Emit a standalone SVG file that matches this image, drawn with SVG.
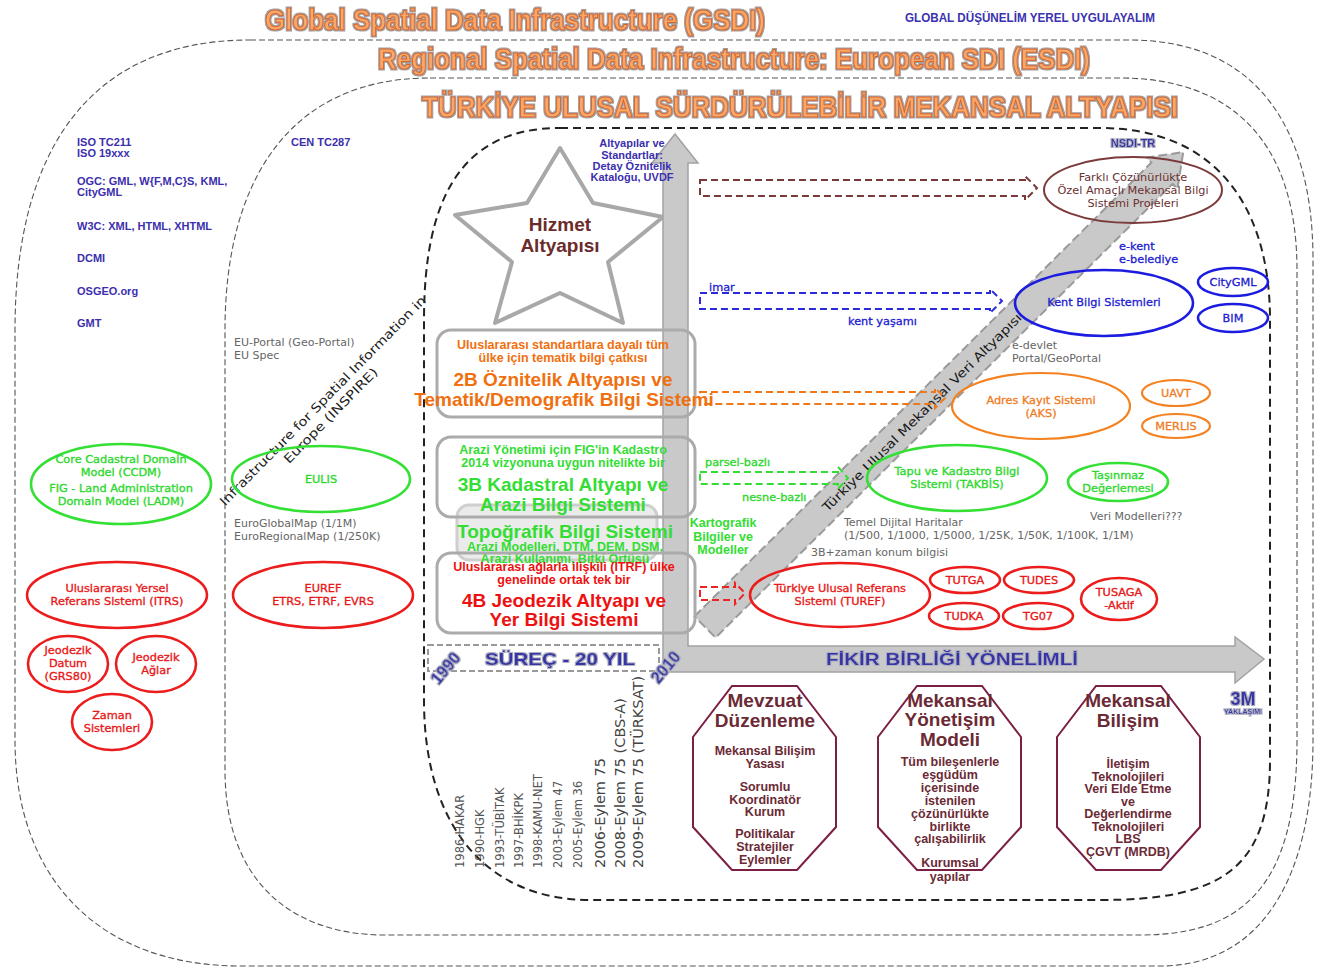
<svg xmlns="http://www.w3.org/2000/svg" width="1319" height="968" viewBox="0 0 1319 968">
<defs>
<filter id="halo" x="-5%" y="-60%" width="110%" height="220%">
<feMorphology in="SourceAlpha" operator="dilate" radius="1.4" result="d"/>
<feFlood flood-color="#a0a0a0"/>
<feComposite in2="d" operator="in" result="g"/>
<feGaussianBlur in="g" stdDeviation="0.7" result="gb"/>
<feMerge><feMergeNode in="gb"/><feMergeNode in="SourceGraphic"/></feMerge>
</filter>
<filter id="halo2" x="-10%" y="-50%" width="120%" height="200%">
<feMorphology in="SourceAlpha" operator="dilate" radius="1" result="d"/>
<feFlood flood-color="#b0b0c0"/>
<feComposite in2="d" operator="in" result="g"/>
<feGaussianBlur in="g" stdDeviation="0.6" result="gb"/>
<feMerge><feMergeNode in="gb"/><feMergeNode in="SourceGraphic"/></feMerge>
</filter>
<style>
text{font-family:"DejaVu Sans","Liberation Sans",sans-serif}
.c{text-anchor:middle}
.ar{font-family:"Liberation Sans",Arial,sans-serif;font-weight:bold}
.pur{font-family:"Liberation Sans",Arial,sans-serif;font-weight:bold;font-size:11px;fill:#3b2fae}
.gray{font-size:11px;fill:#666}
.ttl{font-family:"Liberation Sans",Arial,sans-serif;font-weight:bold;fill:#f8a86a;stroke:#d9641c;stroke-width:1}
.bo{fill:none;stroke:#555;stroke-width:1.1;stroke-dasharray:6 3}
.bi{fill:none;stroke:#222;stroke-width:2;stroke-dasharray:8 5}
.eg{fill:none;stroke:#35e035;stroke-width:2.6}
.er{fill:none;stroke:#ec1c1c;stroke-width:2.6}
.eb{fill:none;stroke:#1c1ce0;stroke-width:2.6}
.eo{fill:none;stroke:#f58220;stroke-width:2.2}
.ebr{fill:none;stroke:#7b3b3b;stroke-width:2}
.tg{fill:#2ed82e;stroke:#2ed82e;stroke-width:0.35;font-size:11.3px}
.tr{fill:#e81818;stroke:#e81818;stroke-width:0.35;font-size:11.3px}
.tb{fill:#2020d0;stroke:#2020d0;stroke-width:0.3;font-size:11.3px}
.to{fill:#f07a20;stroke:#f07a20;stroke-width:0.3;font-size:11.3px}
.tbr{fill:#6b3030;font-size:11.3px}
.box{fill:none;stroke:#ababab;stroke-width:3}
.sub{font-family:"Liberation Sans",Arial,sans-serif;font-weight:bold;font-size:12.5px;text-anchor:middle}
.big{font-family:"Liberation Sans",Arial,sans-serif;font-weight:bold;font-size:19px;text-anchor:middle}
.oct{fill:#fff;stroke:#7b1f45;stroke-width:2}
.ot{font-family:"Liberation Sans",Arial,sans-serif;font-weight:bold;font-size:19px;fill:#6b2a35;text-anchor:middle}
.os{font-family:"Liberation Sans",Arial,sans-serif;font-weight:bold;font-size:12.5px;fill:#6b2a35;text-anchor:middle}
.blu{font-family:"Liberation Sans",Arial,sans-serif;font-weight:bold;fill:#3535a5}
.yr{font-size:11.5px;fill:#555}
.yl{font-size:14.5px;fill:#444}
.grey-arrow{fill:#c9c9c9;stroke:#a2a2a2;stroke-width:1.5}
</style>
</defs>
<rect width="1319" height="968" fill="#fff"/>

<g id="boundaries">
<path class="bo" d="M250,40 H1130 C1250,40 1313,120 1313,260 V740 C1313,880 1260,966 1160,966 H241 C100,966 15,880 15,740 V330 C15,150 90,40 250,40 Z"/>
<path class="bo" d="M430,78 H1120 C1230,78 1297,140 1297,270 V740 C1297,890 1240,935 1140,935 H385 C290,935 225,880 225,770 V330 C225,180 290,78 430,78 Z"/>
<path class="bi" d="M560,128 H1100 C1210,128 1270,200 1270,320 V760 C1270,870 1220,900 1100,900 H590 C490,900 424,830 424,700 V320 C424,200 460,128 560,128 Z"/>
</g>

<g id="titles">
<text class="ttl" x="265" y="30" font-size="30" textLength="500" lengthAdjust="spacingAndGlyphs" filter="url(#halo)">Global Spatial Data Infrastructure (GSDI)</text>
<text class="ar" x="905" y="22" font-size="12" fill="#3a32b0" textLength="250" lengthAdjust="spacingAndGlyphs">GLOBAL DÜŞÜNELİM YEREL UYGULAYALIM</text>
<text class="ttl" x="378" y="69" font-size="30" textLength="712" lengthAdjust="spacingAndGlyphs" filter="url(#halo)">Regional Spatial Data Infrastructure: European SDI (ESDI)</text>
<text class="ttl" x="422" y="117" font-size="29" textLength="756" lengthAdjust="spacingAndGlyphs" filter="url(#halo)">TÜRKİYE ULUSAL SÜRDÜRÜLEBİLİR MEKANSAL ALTYAPISI</text>
</g>

<g id="standards">
<text class="pur" x="77" y="146">ISO TC211</text>
<text class="pur" x="77" y="157">ISO 19xxx</text>
<text class="pur" x="77" y="185">OGC: GML, W{F,M,C}S, KML,</text>
<text class="pur" x="77" y="196">CityGML</text>
<text class="pur" x="77" y="230">W3C: XML, HTML, XHTML</text>
<text class="pur" x="77" y="262">DCMI</text>
<text class="pur" x="77" y="295">OSGEO.org</text>
<text class="pur" x="77" y="327">GMT</text>
<text class="pur" x="291" y="146">CEN TC287</text>
<text class="gray" x="234" y="346">EU-Portal (Geo-Portal)</text>
<text class="gray" x="234" y="359">EU Spec</text>
<text class="gray" x="234" y="527">EuroGlobalMap (1/1M)</text>
<text class="gray" x="234" y="540">EuroRegionalMap (1/250K)</text>
</g>

<g id="inspire" transform="translate(323,401) rotate(-45.5)">
<text class="c" x="0" y="4" font-size="12.5" fill="#222" textLength="288" lengthAdjust="spacingAndGlyphs">Infrastructure for Spatial Information in</text>
<text class="c" x="-5" y="20" font-size="12.5" fill="#222" textLength="128" lengthAdjust="spacingAndGlyphs">Europe (INSPIRE)</text>
</g>

<g id="ccdm"><ellipse class="eg" cx="121" cy="484" rx="90" ry="40"/>
<text class="tg c" x="121" y="463">Core Cadastral Domain</text>
<text class="tg c" x="121" y="476">Model (CCDM)</text>
<text class="tg c" x="121" y="492">FIG - Land Administration</text>
<text class="tg c" x="121" y="505">Domain Model (LADM)</text></g>
<g id="eulis"><ellipse class="eg" cx="321" cy="479" rx="89" ry="33"/>
<text class="tg c" x="321" y="483">EULIS</text></g>
<g id="itrs"><ellipse class="er" cx="117" cy="595" rx="90" ry="33"/>
<text class="tr c" x="117" y="592">Uluslararası Yersel</text>
<text class="tr c" x="117" y="605">Referans Sistemi (ITRS)</text></g>
<g id="euref"><ellipse class="er" cx="323" cy="595" rx="90" ry="33"/>
<text class="tr c" x="323" y="592">EUREF</text>
<text class="tr c" x="323" y="605">ETRS, ETRF, EVRS</text></g>
<g id="datum"><ellipse class="er" cx="68" cy="664" rx="40" ry="28"/>
<text class="tr c" x="68" y="654">Jeodezik</text>
<text class="tr c" x="68" y="667">Datum</text>
<text class="tr c" x="68" y="680">(GRS80)</text></g>
<g id="aglar"><ellipse class="er" cx="156" cy="664" rx="40" ry="28"/>
<text class="tr c" x="156" y="661">Jeodezik</text>
<text class="tr c" x="156" y="674">Ağlar</text></g>
<g id="zaman"><ellipse class="er" cx="112" cy="722" rx="40" ry="28"/>
<text class="tr c" x="112" y="719">Zaman</text>
<text class="tr c" x="112" y="732">Sistemleri</text></g>

<g id="hizmet">
<polygon points="560,148 593,203 663,217 608,262 623,323 560,293 495,323 512,262 455,215 527,203" fill="#fff" stroke="#a8a8a8" stroke-width="4" stroke-linejoin="round"/>
<text class="ar c" x="560" y="231" font-size="19" fill="#6b2b2b">Hizmet</text>
<text class="ar c" x="560" y="252" font-size="19" fill="#6b2b2b">Altyapısı</text>
</g>

<g id="connectors">
<path class="grey-arrow" d="M663,672 V163 H652 L675,134 L698,163 H688 V646 H1235 V637 L1264,659 L1235,683 V672 Z"/>
<g transform="translate(705,627) rotate(-44.8)">
<path d="M0,-15 H644 V-22 L674,0 L644,22 V15 H0 Z" fill="#c9c9c9" stroke="#9a9a9a" stroke-width="2" stroke-dasharray="9 4"/>
<text class="c" x="305" y="5" font-size="12.5" fill="#1a1a1a" textLength="275" lengthAdjust="spacingAndGlyphs">Türkiye Ulusal Mekansal Veri Altyapısı</text>
</g>
<path d="M700,180 H1025 V176 L1037,188 L1025,200 V196 H700 Z" fill="none" stroke="#7a3a3a" stroke-width="2" stroke-dasharray="7 4"/>
<path d="M700,293 H990 V289 L1002,301 L990,313 V309 H700 Z" fill="none" stroke="#2a2adc" stroke-width="2" stroke-dasharray="7 4"/>
<path d="M700,392 H935 V388 L945,398 L935,408 V404 H700 Z" fill="none" stroke="#f07818" stroke-width="2" stroke-dasharray="7 4"/>
<path d="M700,472 H838 V467 L848,478 L838,489 V484 H700 Z" fill="none" stroke="#33dd33" stroke-width="2" stroke-dasharray="7 4"/>
<path d="M700,587 H735 V583 L745,593 L735,604 V600 H700 Z" fill="none" stroke="#ee2222" stroke-width="2" stroke-dasharray="7 4"/>
<text class="tb" x="709" y="291">imar</text>
<text class="tb" x="848" y="325">kent yaşamı</text>
<text class="tg" x="705" y="466">parsel-bazlı</text>
<text class="tg" x="742" y="501">nesne-bazlı</text>
</g>

<g id="standartlar">
<text class="pur c" x="632" y="147" font-size="12">Altyapılar ve</text>
<text class="pur c" x="632" y="159" font-size="12">Standartlar:</text>
<text class="pur c" x="632" y="170" font-size="12">Detay Öznitelik</text>
<text class="pur c" x="632" y="181" font-size="12">Kataloğu, UVDF</text>
</g>

<g id="box-topo">
<rect x="457" y="505" width="200" height="55" rx="12" fill="#e4e4e4" fill-opacity="0.75" stroke="#cfcfcf" stroke-width="3"/>
<text class="big" x="565" y="538" fill="#33dd33">Topoğrafik Bilgi Sistemi</text>
<text class="sub" x="565" y="551" fill="#33dd33">Arazi Modelleri, DTM, DEM, DSM,</text>
<text class="sub" x="565" y="563" fill="#33dd33">Arazi Kullanımı, Bitki Örtüsü</text>
</g>
<g id="box-2b">
<rect class="box" x="437" y="330" width="258" height="87" rx="14"/>
<text class="sub" x="563" y="349" fill="#f07010">Uluslararası standartlara dayalı tüm</text>
<text class="sub" x="563" y="362" fill="#f07010">ülke için tematik bilgi çatkısı</text>
<text class="big" x="563" y="386" fill="#f07010">2B Öznitelik Altyapısı ve</text>
<text class="big" x="564" y="406" fill="#f07010">Tematik/Demografik Bilgi Sistemi</text>
</g>
<g id="box-3b">
<rect class="box" x="437" y="437" width="258" height="80" rx="14"/>
<text class="sub" x="563" y="454" fill="#33dd33">Arazi Yönetimi için FIG'in Kadastro</text>
<text class="sub" x="563" y="467" fill="#33dd33">2014 vizyonuna uygun nitelikte bir</text>
<text class="big" x="563" y="491" fill="#33dd33">3B Kadastral Altyapı ve</text>
<text class="big" x="563" y="511" fill="#33dd33">Arazi Bilgi Sistemi</text>
</g>
<g id="box-4b">
<rect class="box" x="437" y="553" width="258" height="80" rx="14"/>
<text class="sub" x="564" y="571" fill="#ee1111">Uluslararası ağlarla ilişkili (ITRF) ülke</text>
<text class="sub" x="564" y="584" fill="#ee1111">genelinde ortak tek bir</text>
<text class="big" x="564" y="607" fill="#ee1111">4B Jeodezik Altyapı ve</text>
<text class="big" x="564" y="626" fill="#ee1111">Yer Bilgi Sistemi</text>
</g>

<g id="kartografik">
<text class="ar c" x="723" y="527" font-size="12.5" fill="#33dd33">Kartografik</text>
<text class="ar c" x="723" y="541" font-size="12.5" fill="#33dd33">Bilgiler ve</text>
<text class="ar c" x="723" y="554" font-size="12.5" fill="#33dd33">Modeller</text>
</g>

<g id="surec">
<rect x="428" y="645" width="231" height="26" fill="none" stroke="#999" stroke-width="2" stroke-dasharray="6 3"/>
<text class="blu c" x="560" y="665" font-size="17" textLength="150" lengthAdjust="spacingAndGlyphs" filter="url(#halo2)">SÜREÇ - 20 YIL</text>
<text class="blu c" transform="translate(450,672) rotate(-50)" font-size="16" filter="url(#halo2)">1990</text>
<text class="blu c" transform="translate(670,671) rotate(-50)" font-size="16" filter="url(#halo2)">2010</text>
<text class="blu c" x="952" y="665" font-size="16" textLength="252" lengthAdjust="spacingAndGlyphs" filter="url(#halo2)">FİKİR BİRLİĞİ YÖNELİMLİ</text>
</g>

<g id="years">
<text class="yr" transform="translate(464,868) rotate(-90)">1986-HAKAR</text>
<text class="yr" transform="translate(484,868) rotate(-90)">1990-HGK</text>
<text class="yr" transform="translate(504,868) rotate(-90)">1993-TÜBİTAK</text>
<text class="yr" transform="translate(523,868) rotate(-90)">1997-BHİKPK</text>
<text class="yr" transform="translate(542,868) rotate(-90)">1998-KAMU-NET</text>
<text class="yr" transform="translate(562,868) rotate(-90)">2003-Eylem 47</text>
<text class="yr" transform="translate(582,868) rotate(-90)">2005-Eylem 36</text>
<text class="yl" transform="translate(605,868) rotate(-90)">2006-Eylem 75</text>
<text class="yl" transform="translate(625,868) rotate(-90)">2008-Eylem 75 (CBS-A)</text>
<text class="yl" transform="translate(643,868) rotate(-90)">2009-Eylem 75 (TÜRKSAT)</text>
</g>

<g id="nsdi"><text class="blu c" x="1133" y="147" font-size="11" filter="url(#halo2)">NSDI-TR</text></g>
<g id="farkli"><ellipse class="ebr" cx="1133" cy="190" rx="89" ry="33"/>
<text class="tbr c" x="1133" y="181">Farklı Çözünürlükte</text>
<text class="tbr c" x="1133" y="194">Özel Amaçlı Mekansal Bilgi</text>
<text class="tbr c" x="1133" y="207">Sistemi Projeleri</text></g>
<g id="ekent"><text class="tb" x="1119" y="250">e-kent</text><text class="tb" x="1119" y="263">e-belediye</text></g>
<g id="kent"><ellipse class="eb" cx="1104" cy="303" rx="89" ry="33"/>
<text class="tb c" x="1104" y="306">Kent Bilgi Sistemleri</text></g>
<g id="citygml"><ellipse class="eb" cx="1233" cy="282" rx="35" ry="14"/><text class="tb c" x="1233" y="286">CityGML</text></g>
<g id="bim"><ellipse class="eb" cx="1233" cy="318" rx="35" ry="14"/><text class="tb c" x="1233" y="322">BIM</text></g>
<g id="edevlet"><text class="gray" x="1012" y="349">e-devlet</text><text class="gray" x="1012" y="362">Portal/GeoPortal</text></g>
<g id="aks"><ellipse class="eo" cx="1041" cy="406" rx="89" ry="33"/>
<text class="to c" x="1041" y="404">Adres Kayıt Sistemi</text>
<text class="to c" x="1041" y="417">(AKS)</text></g>
<g id="uavt"><ellipse class="eo" cx="1176" cy="393" rx="34" ry="13"/><text class="to c" x="1176" y="397">UAVT</text></g>
<g id="merlis"><ellipse class="eo" cx="1176" cy="426" rx="34" ry="12"/><text class="to c" x="1176" y="430">MERLIS</text></g>
<g id="takbis"><ellipse class="eg" cx="957" cy="478" rx="90" ry="33"/>
<text class="tg c" x="957" y="475">Tapu ve Kadastro Bilgi</text>
<text class="tg c" x="957" y="488">Sistemi (TAKBİS)</text></g>
<g id="tasinmaz"><ellipse class="eg" cx="1118" cy="482" rx="50" ry="19"/>
<text class="tg c" x="1118" y="479">Taşınmaz</text>
<text class="tg c" x="1118" y="492">Değerlemesi</text></g>
<g id="veri-modelleri"><text class="gray" x="1090" y="520">Veri Modelleri???</text></g>
<g id="temel"><text class="gray" x="844" y="526">Temel Dijital Haritalar</text>
<text class="gray" x="844" y="539">(1/500, 1/1000, 1/5000, 1/25K, 1/50K, 1/100K, 1/1M)</text>
<text class="gray" x="811" y="556">3B+zaman konum bilgisi</text></g>
<g id="turef"><ellipse class="er" cx="840" cy="595" rx="90" ry="32"/>
<text class="tr c" x="840" y="592">Türkiye Ulusal Referans</text>
<text class="tr c" x="840" y="605">Sistemi (TUREF)</text></g>
<g id="tutga"><ellipse class="er" cx="965" cy="580" rx="35" ry="13"/><text class="tr c" x="965" y="584">TUTGA</text></g>
<g id="tudes"><ellipse class="er" cx="1039" cy="580" rx="35" ry="13"/><text class="tr c" x="1039" y="584">TUDES</text></g>
<g id="tudka"><ellipse class="er" cx="964" cy="616" rx="35" ry="13"/><text class="tr c" x="964" y="620">TUDKA</text></g>
<g id="tg07"><ellipse class="er" cx="1038" cy="616" rx="35" ry="13"/><text class="tr c" x="1038" y="620">TG07</text></g>
<g id="tusaga"><ellipse class="er" cx="1119" cy="599" rx="38" ry="21"/>
<text class="tr c" x="1119" y="596">TUSAGA</text><text class="tr c" x="1119" y="609">-Aktif</text></g>

<g id="mevzuat">
<polygon class="oct" points="732,686 797,686 836,737 836,827 797,870 732,870 693,827 693,737"/>
<text class="ot" x="765" y="707">Mevzuat</text>
<text class="ot" x="765" y="727">Düzenleme</text>
<text class="os" x="765" y="755">Mekansal Bilişim</text>
<text class="os" x="765" y="768">Yasası</text>
<text class="os" x="765" y="791">Sorumlu</text>
<text class="os" x="765" y="804">Koordinatör</text>
<text class="os" x="765" y="816">Kurum</text>
<text class="os" x="765" y="838">Politikalar</text>
<text class="os" x="765" y="851">Stratejiler</text>
<text class="os" x="765" y="864">Eylemler</text>
</g>
<g id="yonetisim">
<polygon class="oct" points="917,686 982,686 1021,737 1021,827 982,870 917,870 878,827 878,737"/>
<text class="ot" x="950" y="707">Mekansal</text>
<text class="ot" x="950" y="726">Yönetişim</text>
<text class="ot" x="950" y="746">Modeli</text>
<text class="os" x="950" y="766">Tüm bileşenlerle</text>
<text class="os" x="950" y="779">eşgüdüm</text>
<text class="os" x="950" y="792">içerisinde</text>
<text class="os" x="950" y="805">istenilen</text>
<text class="os" x="950" y="818">çözünürlükte</text>
<text class="os" x="950" y="831">birlikte</text>
<text class="os" x="950" y="843">çalışabilirlik</text>
<text class="os" x="950" y="867">Kurumsal</text>
<text class="os" x="950" y="881">yapılar</text>
</g>
<g id="bilisim">
<polygon class="oct" points="1096,686 1161,686 1200,737 1200,827 1161,870 1096,870 1057,827 1057,737"/>
<text class="ot" x="1128" y="707">Mekansal</text>
<text class="ot" x="1128" y="727">Bilişim</text>
<text class="os" x="1128" y="768">İletişim</text>
<text class="os" x="1128" y="781">Teknolojileri</text>
<text class="os" x="1128" y="793">Veri Elde Etme</text>
<text class="os" x="1128" y="806">ve</text>
<text class="os" x="1128" y="818">Değerlendirme</text>
<text class="os" x="1128" y="831">Teknolojileri</text>
<text class="os" x="1128" y="843">LBS</text>
<text class="os" x="1128" y="856">ÇGVT (MRDB)</text>
</g>
<g id="yaklasim">
<text class="blu c" x="1243" y="705" font-size="18" filter="url(#halo2)">3M</text>
<text class="blu c" x="1243" y="714" font-size="7" filter="url(#halo2)">YAKLAŞIMI</text>
</g>
</svg>
